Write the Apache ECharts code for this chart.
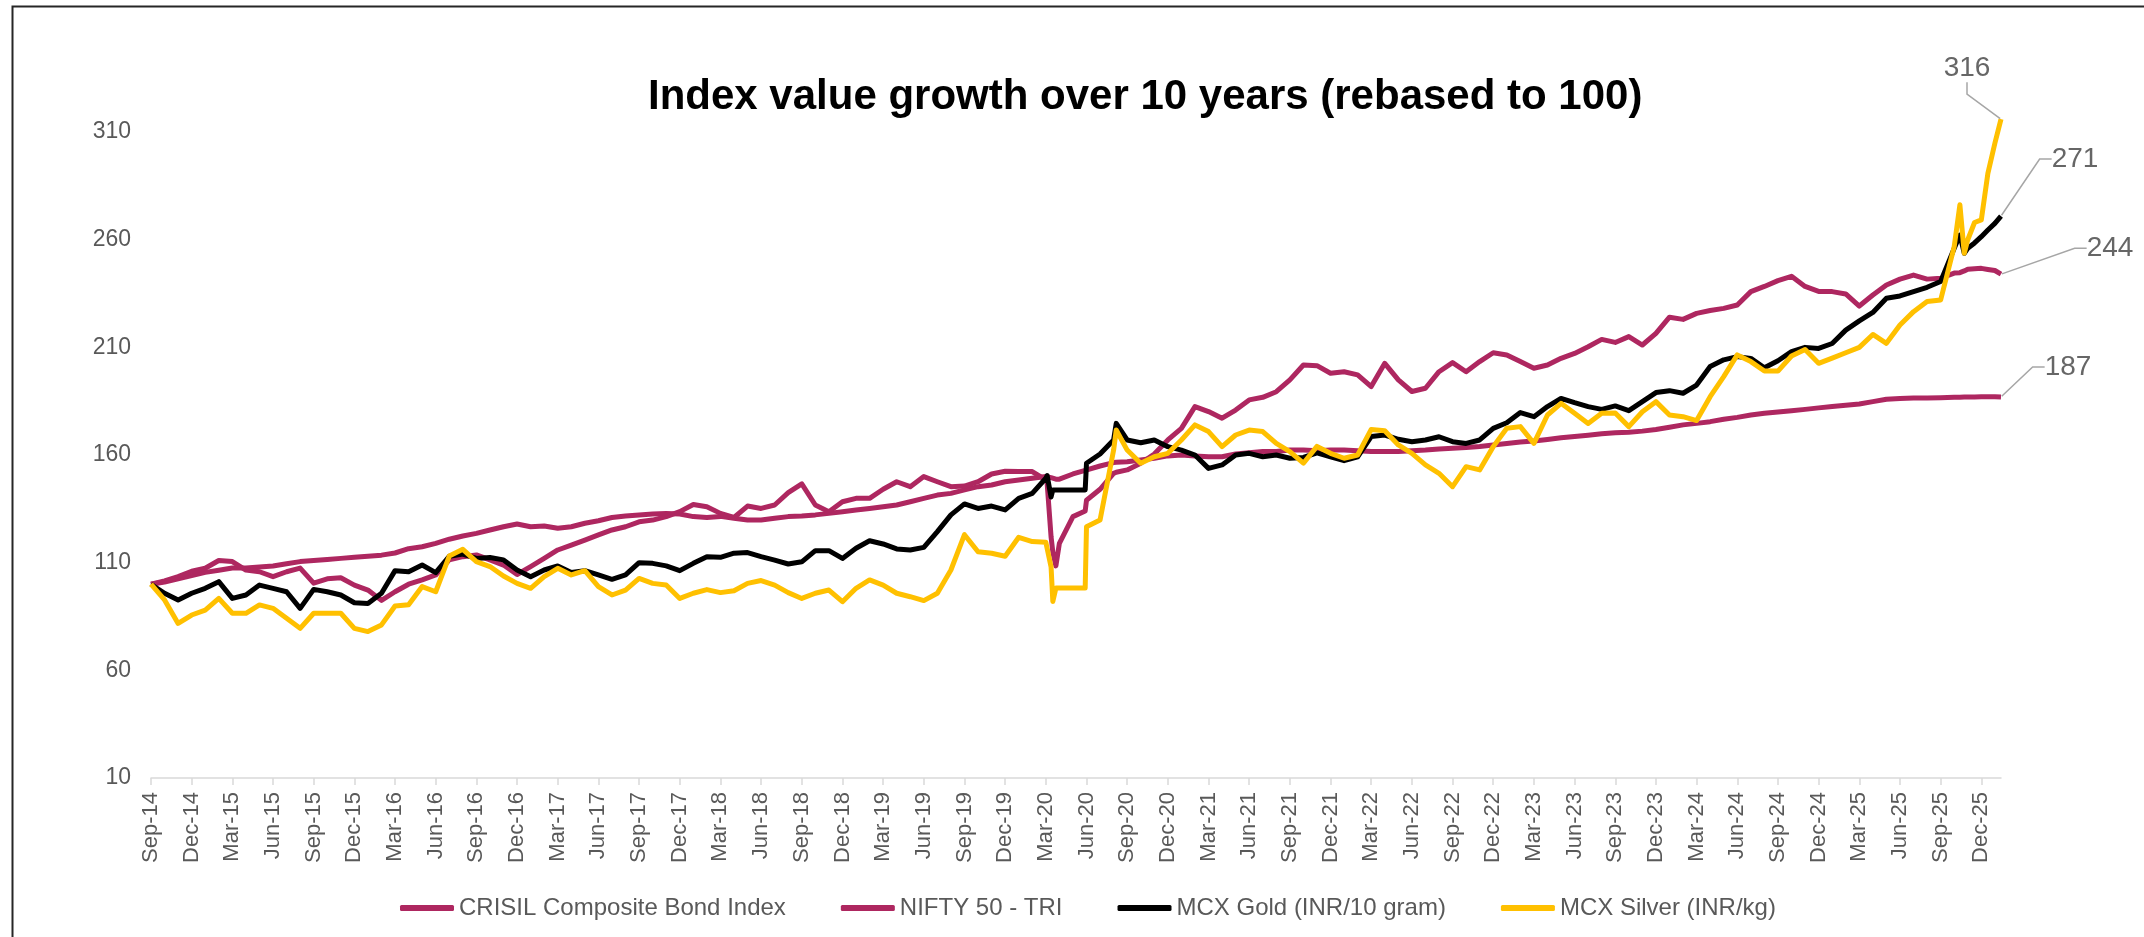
<!DOCTYPE html>
<html>
<head>
<meta charset="utf-8">
<title>Index value growth over 10 years</title>
<script src="https://cdn.jsdelivr.net/npm/echarts@6/dist/echarts.min.js"></script>
<style>
  html, body { margin: 0; padding: 0; background: #fff; }
  #chart { width: 2144px; height: 937px; }
</style>
</head>
<body>
<div id="chart"></div>
<script>
// sample dates: 1st of each month, plus a few extra days where the lines jump
const dates = [
  '2014-09-01','2014-10-01','2014-11-01','2014-12-01',
  '2015-01-01','2015-02-01','2015-03-01','2015-04-01','2015-05-01','2015-06-01','2015-07-01','2015-08-01','2015-09-01','2015-10-01','2015-11-01','2015-12-01',
  '2016-01-01','2016-02-01','2016-03-01','2016-04-01','2016-05-01','2016-06-01','2016-07-01','2016-08-01','2016-09-01','2016-10-01','2016-11-01','2016-12-01',
  '2017-01-01','2017-02-01','2017-03-01','2017-04-01','2017-05-01','2017-06-01','2017-07-01','2017-08-01','2017-09-01','2017-10-01','2017-11-01','2017-12-01',
  '2018-01-01','2018-02-01','2018-03-01','2018-04-01','2018-05-01','2018-06-01','2018-07-01','2018-08-01','2018-09-01','2018-10-01','2018-11-01','2018-12-01',
  '2019-01-01','2019-02-01','2019-03-01','2019-04-01','2019-05-01','2019-06-01','2019-07-01','2019-08-01','2019-09-01','2019-10-01','2019-11-01','2019-12-01',
  '2020-01-01','2020-02-01','2020-03-01','2020-03-04','2020-03-13','2020-03-17','2020-03-24','2020-04-01','2020-05-01','2020-05-29','2020-06-01','2020-07-01','2020-08-01','2020-08-07','2020-09-01','2020-10-01','2020-11-01','2020-12-01',
  '2021-01-01','2021-02-01','2021-03-01','2021-04-01','2021-05-01','2021-06-01','2021-07-01','2021-08-01','2021-09-01','2021-10-01','2021-11-01','2021-12-01',
  '2022-01-01','2022-02-01','2022-03-01','2022-04-01','2022-05-01','2022-06-01','2022-07-01','2022-08-01','2022-09-01','2022-10-01','2022-11-01','2022-12-01',
  '2023-01-01','2023-02-01','2023-03-01','2023-04-01','2023-05-01','2023-06-01','2023-07-01','2023-08-01','2023-09-01','2023-10-01','2023-11-01','2023-12-01',
  '2024-01-01','2024-02-01','2024-03-01','2024-04-01','2024-05-01','2024-06-01','2024-07-01','2024-08-01','2024-09-01','2024-10-01','2024-11-01','2024-12-01',
  '2025-01-01','2025-02-01','2025-03-01','2025-04-01','2025-05-01','2025-06-01','2025-07-01','2025-08-01','2025-09-01','2025-10-01','2025-10-14','2025-10-24','2025-11-01','2025-11-16','2025-12-01','2025-12-16',
  '2026-01-01','2026-01-15'
];

const tickLabels = [
  'Sep-14','Dec-14',
  'Mar-15','Jun-15','Sep-15','Dec-15','Mar-16','Jun-16','Sep-16','Dec-16',
  'Mar-17','Jun-17','Sep-17','Dec-17','Mar-18','Jun-18','Sep-18','Dec-18',
  'Mar-19','Jun-19','Sep-19','Dec-19','Mar-20','Jun-20','Sep-20','Dec-20',
  'Mar-21','Jun-21','Sep-21','Dec-21','Mar-22','Jun-22','Sep-22','Dec-22',
  'Mar-23','Jun-23','Sep-23','Dec-23','Mar-24','Jun-24','Sep-24','Dec-24',
  'Mar-25','Jun-25','Sep-25','Dec-25'
];

const crisilBond = [
  100, 101, 102.5, 104,
  105.5, 106.5, 107.5, 107.5, 108, 108.5, 109.5, 110.5, 111, 111.5, 112, 112.5,
  113, 113.5, 114.5, 116.5, 117.4, 119, 120.9, 122.4, 123.6, 125.2, 126.7, 128,
  126.7, 127, 126, 126.7, 128.3, 129.5, 131, 131.7, 132.2, 132.6, 132.9, 132.6,
  131.4, 131, 131.5, 130.6, 129.8, 129.8, 130.6, 131.4, 131.7, 132.2, 132.9, 133.7,
  134.5, 135.2, 136, 136.8, 138.3, 139.9, 141.4, 142.2, 143.8, 145.3, 146.1, 147.6,
  148.4, 149.2, 150, 150, 149.5, 149, 148.8, 148.8, 151.2, 152.9, 153.1, 154.9, 156.5, 156.6, 156.9, 157.7, 158.5, 159.6,
  160, 159.6, 159.2, 159.2, 160.5, 161.1, 161.6, 161.6, 162.3, 162.3, 162, 162.3,
  162.3, 162, 161.6, 161.6, 161.6, 162, 162.3, 162.8, 163.1, 163.5, 164, 164.7,
  165.4, 166, 166.5, 167.2, 168, 168.6, 169.2, 169.9, 170.3, 170.6, 171.1, 171.9,
  172.9, 174, 174.7, 175.5, 176.6, 177.5, 178.6, 179.4, 180, 180.6, 181.2, 181.9,
  182.5, 183.1, 183.7, 184.8, 185.9, 186.3, 186.5, 186.5, 186.6, 186.8, 186.8, 186.9, 187, 187, 187.1, 187.1,
  187.1, 187
];

const nifty50Tri = [
  100, 101.5, 103.5, 106,
  107.4, 111, 110.5, 106.6, 105.8, 103.5, 105.8, 107.5, 100.5, 102.5, 103, 99.6,
  97.3, 92.5, 96.5, 100, 102, 104.3, 111.3, 112.8, 113.6, 111.3, 108.9, 104.5,
  108.2, 112, 115.9, 118.2, 120.5, 122.9, 125.2, 126.7, 129, 129.8, 131.4, 133.7,
  137, 136, 132.9, 131, 136.3, 135.2, 136.8, 142.5, 146.6, 136.8, 133.7, 138.3,
  139.9, 139.9, 144.1, 147.6, 145.3, 150, 147.6, 145.3, 145.6, 147.6, 151.2, 152.5,
  152.3, 152.3, 148.5, 147, 122, 115, 108.5, 119, 131.4, 134, 139, 144.1, 151.5, 152, 153.1, 156.2, 160.5, 167,
  172.4, 182.5, 180.2, 177.1, 180.9, 185.6, 186.8, 189.4, 194.9, 201.8, 201.5, 198,
  198.7, 197.2, 191.8, 202.6, 194.9, 189.5, 191, 198.7, 202.9, 198.7, 203.4, 207.5,
  206.5, 203.4, 200.3, 201.8, 204.9, 207.2, 210.3, 213.7, 212.3, 215, 211.1, 216.5,
  224, 223, 225.8, 227.1, 228.1, 229.7, 235.9, 238.3, 241, 243, 238.3, 236,
  235.9, 234.8, 229.2, 234.3, 239, 241.7, 243.6, 241.7, 242.1, 244.5, 244.7, 245.5, 246.3, 246.5, 246.7, 246.2,
  245.7, 244
];

const mcxGold = [
  100, 95.8, 92.7, 95.8,
  98.1, 101.2, 93.4, 95, 99.6, 98.1, 96.5, 88.8, 97.6, 96.5, 95, 91.4,
  91.1, 95.8, 106.3, 105.8, 108.9, 105.4, 113, 114, 112, 112.4, 111.3, 106.6,
  103.5, 106.6, 108.5, 105.4, 106.3, 104.3, 102.3, 104.3, 110, 109.7, 108.5, 106.3,
  109.7, 112.8, 112.5, 114.4, 114.7, 112.8, 111.2, 109.4, 110.4, 115.6, 115.6, 112,
  116.7, 120.2, 118.7, 116.4, 115.9, 117.1, 124.4, 132.2, 137.3, 135.2, 136.3, 134.5,
  139.9, 142.2, 149.2, 150.5, 140.5, 143.8, 143.8, 143.8, 143.8, 143.8, 156.2, 160.5, 167, 174.7, 167, 165.7, 167, 163.9,
  162.3, 160, 153.8, 155.4, 160, 160.8, 159.2, 160, 158.5, 158.9, 161, 159.2,
  157.4, 159.2, 168.6, 169.3, 167.3, 166.2, 167, 168.5, 166.2, 165.4, 167, 172.4,
  175, 179.7, 177.8, 182.5, 186.3, 184.3, 182.5, 181.2, 182.8, 180.6, 184.8, 189,
  189.9, 188.7, 192.5, 201.1, 204.2, 205.7, 204.9, 200.5, 203.8, 208, 210, 209.5,
  211.8, 218, 222.3, 226.2, 232.8, 233.9, 235.9, 237.9, 240.6, 256, 262.2, 253.7, 256, 258.5, 261.4, 264.5,
  267.6, 271
];

const mcxSilver = [
  100, 92.7, 81.8, 85.7,
  88, 93.4, 86.5, 86.5, 90.4, 88.8, 84.2, 79.5, 86.5, 86.5, 86.5, 79.5,
  78, 81.1, 89.9, 90.5, 98.9, 96.5, 113.1, 116.2, 110.5, 108.2, 103.8, 100.4,
  98.1, 103.5, 107.4, 104.3, 106.3, 98.9, 95, 97.3, 102.7, 100.4, 99.6, 93.4,
  95.8, 97.5, 96.1, 97, 100.4, 101.7, 99.6, 96.1, 93.4, 95.8, 97.3, 91.9,
  98.1, 102, 99.6, 95.8, 94.2, 92.4, 95.8, 106.6, 123, 115.1, 114.4, 113,
  121.8, 119.8, 119.5, 120, 108, 92, 98.2, 98.2, 98.2, 98.2, 126.7, 129.8, 162.3, 171.6, 162.3, 156.2, 159.2, 160.8,
  167, 174, 170.9, 163.9, 169.3, 171.6, 170.9, 165.4, 161.6, 156.2, 164, 160.8,
  158.5, 160, 171.9, 171.3, 164.7, 160.8, 155.4, 151.5, 145.3, 154.6, 153.1, 163.9,
  172.4, 173.2, 165.4, 178.6, 184, 179.4, 174.7, 179.4, 179.5, 173.2, 180.1, 184.8,
  178.6, 177.8, 176, 187.1, 196.4, 206.5, 203.4, 199, 199, 206, 209, 202.6,
  205, 207.5, 210, 216, 211.9, 220.4, 226.6, 231.3, 232, 256.8, 276.2, 253.7, 260, 268, 269.2, 290.8,
  304.8, 316
];

const seriesNames = ['CRISIL Composite Bond Index', 'NIFTY 50 - TRI', 'MCX Gold (INR/10 gram)', 'MCX Silver (INR/kg)'];
const seriesValues = [crisilBond, nifty50Tri, mcxGold, mcxSilver];
const seriesColors = ['#AE2760', '#AE2760', '#000000', '#FFC000'];
// where the end-value labels sit, relative to the last point (bond, nifty, gold, silver)
const endLabelOffsets = [[67, -30], [109, -26], [74, -57], [-34, -51]];

const FONT = '"Liberation Sans", Arial, Helvetica, sans-serif';

// months elapsed since 1 Sep 2014
function monthPos(d) {
  const p = d.split('-').map(Number);
  const daysInMonth = new Date(p[0], p[1], 0).getDate();
  return (p[0] - 2014) * 12 + (p[1] - 9) + (p[2] - 1) / daysInMonth;
}

const xs = dates.map(monthPos);
const lastX = xs[xs.length - 1];
const tickValues = tickLabels.map((_, i) => i * 3);

let myChart = echarts.init(document.getElementById('chart'));

const lineSeries = seriesNames.map((name, k) => ({
  name: name,
  type: 'line',
  showSymbol: false,
  symbol: 'none',
  animation: false,
  emphasis: { disabled: true },
  lineStyle: { color: seriesColors[k], width: 5, join: 'round' },
  itemStyle: { color: seriesColors[k] },
  data: seriesValues[k].map((v, i) => [xs[i], v]),
  z: 2 + k
}));

// last values with their guide lines
const endSeries = {
  name: 'ends',
  type: 'scatter',
  silent: true,
  animation: false,
  symbolSize: 2,
  itemStyle: { color: 'rgba(0,0,0,0)' },
  emphasis: { disabled: true },
  z: 10,
  label: {
    show: true,
    position: 'inside',
    fontSize: 28,
    fontFamily: FONT,
    color: '#404040',
    formatter: p => Math.round(p.value[1])
  },
  labelLine: {
    show: true,
    length2: 12,
    lineStyle: { color: '#A6A6A6', width: 1.5 }
  },
  labelLayout: function (params) {
    const o = endLabelOffsets[params.dataIndex];
    return { dx: o[0], dy: o[1] };
  },
  data: seriesValues.map(vals => [lastX, vals[vals.length - 1]])
};

myChart.setOption({
  backgroundColor: '#ffffff',
  animation: false,
  textStyle: { fontFamily: FONT },
  title: {
    text: 'Index value growth over 10 years (rebased to 100)',
    left: 643,
    top: 71,
    textStyle: { fontSize: 42, fontWeight: 'bold', color: '#000000', fontFamily: FONT }
  },
  graphic: [{
    type: 'rect',
    left: 10,
    top: 4,
    silent: true,
    shape: { width: 2300, height: 1100 },
    style: { fill: 'none', stroke: '#262626', lineWidth: 2 }
  }],
  legend: {
    data: seriesNames,
    left: 395,
    top: 891,
    icon: 'roundRect',
    itemWidth: 54,
    itemHeight: 6,
    itemGap: 55,
    textStyle: { fontSize: 24, color: '#595959', fontFamily: FONT }
  },
  grid: {
    left: 151,
    right: 143,
    top: 89,
    bottom: 159,
    containLabel: false
  },
  xAxis: {
    type: 'value',
    min: 0,
    max: lastX,
    splitLine: { show: false },
    axisLine: { show: true, onZero: false, lineStyle: { color: '#D9D9D9', width: 1.5 } },
    axisTick: { show: true, length: 7, customValues: tickValues, lineStyle: { color: '#D9D9D9', width: 1.5 } },
    axisLabel: {
      customValues: tickValues,
      rotate: 90,
      margin: 14,
      fontSize: 22,
      color: '#595959',
      fontFamily: FONT,
      formatter: v => tickLabels[Math.round(v / 3)] || ''
    }
  },
  yAxis: {
    type: 'value',
    min: 10,
    max: 330,
    interval: 50,
    splitLine: { show: false },
    axisLine: { show: false },
    axisTick: { show: false },
    axisLabel: { fontSize: 23, color: '#595959', margin: 20, showMaxLabel: false, fontFamily: FONT }
  },
  series: lineSeries.concat([endSeries])
});
</script>
</body>
</html>
